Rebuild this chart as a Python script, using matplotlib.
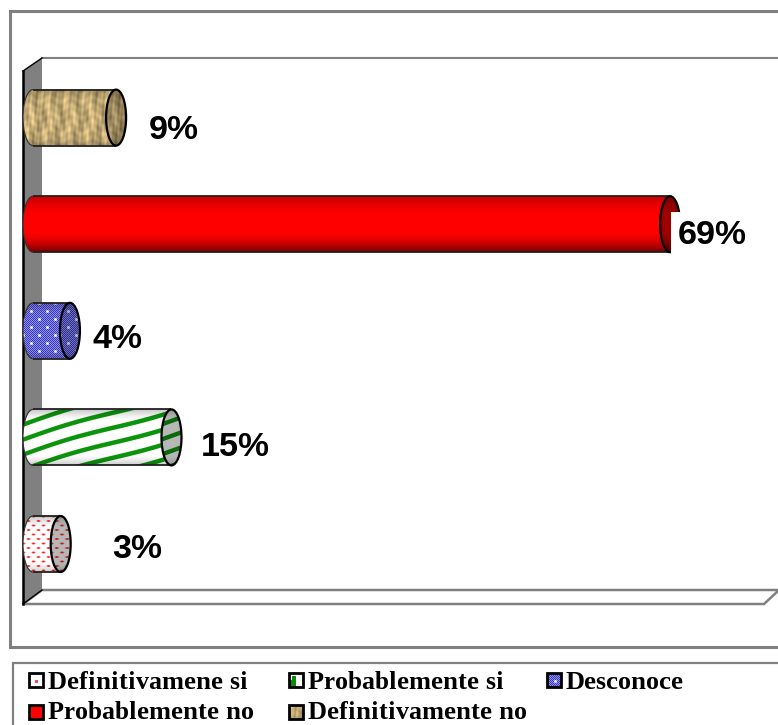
import numpy as np
import matplotlib
matplotlib.use("Agg")
import matplotlib.pyplot as plt
from matplotlib.patches import Rectangle, Polygon, Ellipse, PathPatch
from matplotlib.path import Path

plt.rcParams["text.hinting"] = "no_autohint"
plt.rcParams["text.hinting_factor"] = 1

categories = ["Definitivamene si", "Probablemente si", "Desconoce", "Probablemente no", "Definitivamente no"]
values = [3, 15, 4, 69, 9]
value_labels = ["3%", "15%", "4%", "69%", "9%"]
label_dx = [77, 63.5, 47.5, 42, 57.5]
label_dy = [5, 10, 8, 11, 12.5]
textures = ["dots", "stripes", "blue", "red", "tan"]

W, H = 778, 725
PX_PER_PCT = 9.233
X0 = 33
Y0 = 544
PX_PER_CAT = 106.6
HALF_W = 10
HALF_H = 28

fig = plt.figure(figsize=(W / 100, H / 100), dpi=100, facecolor="white")

# frame, walls and legend box, in pixel coordinates
deco = fig.add_axes([0, 0, 1, 1], zorder=0)
deco.set_xlim(0, W)
deco.set_ylim(H, 0)
deco.axis("off")
GREY = "#808080"
deco.add_patch(Rectangle((10, 11), W + 20, 636, fc="white", ec=GREY, lw=2.2))
deco.plot([42, W], [58, 58], color=GREY, lw=1.5)
deco.add_patch(Polygon([(23, 604), (42, 590), (W, 590), (W, 591), (764, 604)], fc="white", ec=GREY, lw=1.8))
deco.add_patch(Polygon([(23, 71), (42, 58), (42, 590), (23, 604)], fc=GREY, ec="none"))
deco.plot([23, 23], [71, 604], color="black", lw=1.8)
deco.plot([23, 42], [71, 58], color="black", lw=1.0)
deco.plot([23, 42], [604, 590], color="black", lw=1.0)
deco.add_patch(Rectangle((13.5, 662.5), W + 20, 100, fc="white", ec=GREY, lw=1.6))


def shade(yy, kind):
    t = np.abs(yy)
    if kind == "red":
        s = np.where(yy > 0, 1 - 0.55 * np.clip((yy - 0.25) / 0.75, 0, 1) ** 1.6,
                     1 - 0.2 * np.clip((-yy - 0.4) / 0.6, 0, 1))
    else:
        s = 1 - 0.22 * np.clip((t - 0.6) / 0.4, 0, 1) ** 1.5
    return s


def texture(kind, w, h):
    x, y = np.meshgrid(np.arange(w, dtype=float), np.arange(h, dtype=float))
    yy = (y - h / 2) / (h / 2)
    img = np.ones((h, w, 3))
    if kind == "red":
        img[..., 0], img[..., 1], img[..., 2] = 1.0, 0.0, 0.0
    elif kind == "tan":
        a = (np.sin(x * 0.75 + 2.2 * np.sin(y * 0.09)) + np.sin(x * 0.31 + 1.3 * np.sin(y * 0.17))
             + 0.45 * np.sin(y * 0.8 + np.sin(x * 0.3) * 2) + 0.6 * np.sin(x * 1.7 + y * 0.15)) / 3.0
        base = 0.74 + 0.24 * a
        img[..., 0] = np.clip(base * 1.03, 0, 1)
        img[..., 1] = np.clip(base * 0.90, 0, 1)
        img[..., 2] = np.clip(base * 0.62, 0, 1)
    elif kind == "stripes":
        phase = y + 0.30 * x + 1.8 * np.sin(x * 0.035)
        m = np.clip((np.abs(((phase / 15.0) % 1) - 0.5) * 15.0 - 5.2) / 1.0 + 0.5, 0, 1)
        img[..., 0] = 1 - m * 0.95
        img[..., 1] = 1 - m * 0.42
        img[..., 2] = 1 - m * 0.95
    elif kind == "blue":
        fine = ((x.astype(int) + y.astype(int)) % 2 == 0)
        img[..., 0] = np.where(fine, 0.22, 0.58)
        img[..., 1] = np.where(fine, 0.22, 0.58)
        img[..., 2] = np.where(fine, 0.78, 0.90)
        for ox, oy in [(0, 0), (8, 8)]:
            d = np.hypot(((x + ox) % 16) - 8, ((y + oy) % 16) - 8)
            spot = np.clip(2.0 - d, 0, 1)[..., None] * 0.85
            img = img * (1 - spot) + spot
    elif kind == "dots":
        for ox, oy in [(0, 0), (5, 4.5)]:
            dx = ((x + ox) % 10) - 5
            dy = ((y + oy) % 9) - 4.5
            spot = np.clip(1.4 - np.hypot(dx / 1.8, dy), 0, 1)
            img[..., 1] -= spot * 0.9
            img[..., 2] -= spot * 0.9
        img = np.clip(img, 0, 1)
    return img * shade(yy, "red" if kind == "red" else "other")[..., None]


# bars, in data coordinates: x = percent, y = category index
ax = fig.add_axes([0, 0, 1, 1], zorder=1)
ax.patch.set_alpha(0)
ax.axis("off")
xlim = (-X0 / PX_PER_PCT, (W - X0) / PX_PER_PCT)
ylim = ((Y0 - H) / PX_PER_CAT, Y0 / PX_PER_CAT)
rx = HALF_W / PX_PER_PCT
ry = HALF_H / PX_PER_CAT
K = 0.5523
CAP_DARK = {"red": 0.62, "tan": 0.78, "stripes": 0.72, "blue": 0.78, "dots": 0.72}
for i, (v, kind) in enumerate(zip(values, textures)):
    verts = [(v, i + ry), (0, i + ry),
             (-rx * K, i + ry), (-rx, i + ry * K), (-rx, i),
             (-rx, i - ry * K), (-rx * K, i - ry), (0, i - ry),
             (v, i - ry), (v, i - ry)]
    codes = [Path.MOVETO, Path.LINETO, Path.CURVE4, Path.CURVE4, Path.CURVE4,
             Path.CURVE4, Path.CURVE4, Path.CURVE4, Path.LINETO, Path.CLOSEPOLY]
    body = PathPatch(Path(verts, codes), fc="none", ec="none")
    ax.add_patch(body)
    w_px = int(round(v * PX_PER_PCT + HALF_W))
    im = ax.imshow(texture(kind, w_px, 2 * HALF_H), extent=(-rx, v, i - ry, i + ry),
                   aspect="auto", interpolation="bilinear", zorder=2, origin="upper")
    im.set_clip_path(body)
    ax.plot([0, v], [i + ry, i + ry], color="#202020", lw=1.3, zorder=3, solid_capstyle="butt")
    ax.plot([0, v], [i - ry, i - ry], color="#202020", lw=1.3, zorder=3, solid_capstyle="butt")
    ax.add_patch(PathPatch(Path(verts[1:8], codes[:1] + codes[2:8]), fc="none", ec="#303030", lw=0.8, zorder=3))
    cap = Ellipse((v, i), 2 * rx, 2 * ry, fc="none", ec="none", zorder=4)
    ax.add_patch(cap)
    cap_img = texture(kind, 2 * HALF_W, 2 * HALF_H) * CAP_DARK[kind]
    im2 = ax.imshow(cap_img, extent=(v - rx, v + rx, i - ry, i + ry), aspect="auto",
                    interpolation="bilinear", zorder=4, origin="upper")
    im2.set_clip_path(cap)
    ax.add_patch(Ellipse((v, i), 2 * rx, 2 * ry, fc="none", ec="black", lw=1.6, zorder=5))
    bbox = dict(fc="white", ec="none", pad=5) if kind == "red" else None
    ax.annotate(value_labels[i], xy=(v, i),
                xytext=(label_dx[i] * 0.72, -label_dy[i] * 0.72), textcoords="offset points",
                ha="center", va="center", fontsize=24.5, fontweight="bold",
                family="Liberation Sans", color="black", bbox=bbox, zorder=6)
ax.set_xlim(xlim)
ax.set_ylim(ylim)

# legend
leg_x = [28, 288, 546, 28, 288]
leg_y = [680, 680, 680, 712, 712]
leg_base = [689, 689, 689, 719, 719]
for i, (cat, kind) in enumerate(zip(categories, textures)):
    lx, ly = leg_x[i], leg_y[i]
    if kind == "red":
        tex = np.zeros((14, 14, 3)); tex[..., 0] = 1
    elif kind == "tan":
        tex = texture("tan", 14, 14)
    elif kind == "stripes":
        tex = np.ones((14, 14, 3)); tex[7:, :7] = (0.05, 0.55, 0.05); tex[3:7, 3:7] = (0.05, 0.55, 0.05)
    elif kind == "blue":
        tex = texture("blue", 14, 14)
    else:
        tex = np.ones((14, 14, 3)); tex[7:10, 6:9] = (1, 0.3, 0.3)
    deco.imshow(tex, extent=(lx + 1, lx + 15, ly + 7, ly - 7), aspect="auto", interpolation="nearest", zorder=3)
    deco.add_patch(Rectangle((lx + 1, ly - 7), 14, 14, fc="none", ec="black", lw=2.0, zorder=4))
    deco.text(lx + 20, leg_base[i], cat, ha="left", va="baseline", fontsize=18.6, fontweight="bold",
              family="Liberation Serif", color="black", zorder=5)
deco.set_xlim(0, W)
deco.set_ylim(H, 0)

fig.savefig("out.png", dpi=100, facecolor="white")
